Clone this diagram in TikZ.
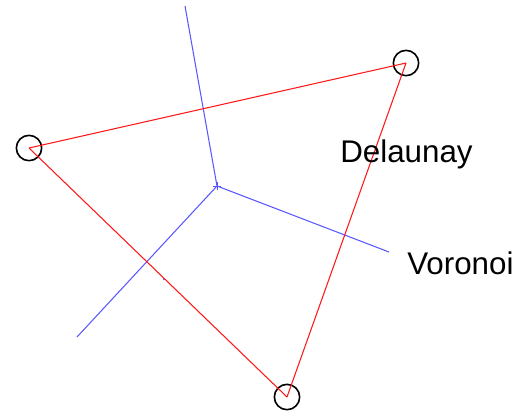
\documentclass[tikz,border=0pt]{standalone}
\usepackage{fontspec}
\setmainfont{Liberation Sans}
\begin{document}
\begin{tikzpicture}[x=0.75pt,y=-0.75pt,
    site/.style={draw=black,line width=1.2pt,circle,minimum size=19pt,inner sep=0pt},
    delaunay/.style={red!90!white,line width=0.8pt},
    voronoi/.style={blue!65!white,line width=0.8pt},
    tag/.style={font=\fontsize{23.5}{28}\selectfont,anchor=base west,inner sep=0pt}]
    \useasboundingbox (0,0) rectangle (528,415);

    % Sites (circled)
    \node[site] (a) at (29,148) {};
    \node[site] (b) at (406,63) {};
    \node[site] (c) at (287,397) {};

    % Voronoi vertex and free ends
    \coordinate (v) at (217,186);
    \coordinate (vtop) at (185,6);
    \coordinate (vright) at (389,252);
    \coordinate (vleft) at (77,337);

    % Voronoi edges
    \draw[voronoi] (v) -- (vtop);
    \draw[voronoi] (v) -- (vright);
    \draw[voronoi] (v) -- (vleft);
    \draw[voronoi,line width=0.6pt] ([xshift=-3]v) -- ([xshift=3]v) ([yshift=-3]v) -- ([yshift=3]v);
    \fill[blue!65!white] (164,279) circle (1.2);

    % Delaunay edges
    \draw[delaunay] (a.center) -- (b.center);
    \draw[delaunay] (b.center) -- (c.center);
    \draw[delaunay] (c.center) -- (a.center);

    % Labels
    \node[tag] (dl) at (340,162) {Delaunay};
    \node[tag] (vl) at (407,274) {Voronoi};
\end{tikzpicture}
\end{document}
